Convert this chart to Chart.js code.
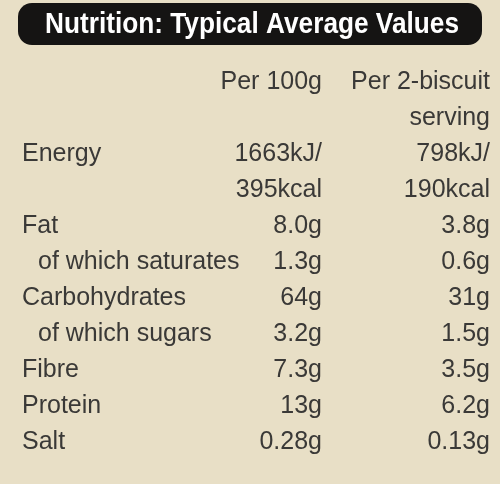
<!DOCTYPE html>
<html>
<head>
<meta charset="utf-8">
<script src="https://cdn.jsdelivr.net/npm/chart.js@4"></script>
<style>
  html, body { margin: 0; padding: 0; background: #e8dfc6; }
  #wrap { width: 500px; height: 484px; }
</style>
</head>
<body>
<div id="wrap"><canvas id="table"></canvas></div>
<script>
const TITLE        = 'Nutrition: Typical Average Values';
const HEADERS      = ['Per 100g', 'Per 2-biscuit\nserving'];
const NUTRIENTS    = ['Energy', 'Fat', 'of which saturates', 'Carbohydrates',
                      'of which sugars', 'Fibre', 'Protein', 'Salt'];
const SUB_ROWS     = [false, false, true, false, true, false, false, false];
const PER_100G     = ['1663kJ/\n395kcal', '8.0g', '1.3g', '64g', '3.2g', '7.3g', '13g', '0.28g'];
const PER_SERVING  = ['798kJ/\n190kcal', '3.8g', '0.6g', '31g', '1.5g', '3.5g', '6.2g', '0.13g'];

const TEXT_COLOR = '#3a3937';
const FONT       = '25px "Liberation Sans", Arial, sans-serif';

// column anchors on the x scale (0..500)
const COL_LABEL = 22, COL_SUB = 38, COL_100G = 322, COL_SERVING = 490;

var lineCount = function lineCount(text) {
   return text.split('\n').length;
};

// build points: y is the text line index, 0 = header line
var labelPoints = [], per100Points = [], servingPoints = [];
per100Points.push({ x: COL_100G, y: 0, text: HEADERS[0] });
servingPoints.push({ x: COL_SERVING, y: 0, text: HEADERS[1] });

var line = Math.max(lineCount(HEADERS[0]), lineCount(HEADERS[1]));
NUTRIENTS.forEach((name, i) => {
   labelPoints.push({ x: SUB_ROWS[i] ? COL_SUB : COL_LABEL, y: line, text: name });
   per100Points.push({ x: COL_100G, y: line, text: PER_100G[i] });
   servingPoints.push({ x: COL_SERVING, y: line, text: PER_SERVING[i] });
   line += Math.max(lineCount(PER_100G[i]), lineCount(PER_SERVING[i]));
});

var panelPlugin = {
   id: 'panel',
   beforeDraw: function (chart) {
      var ctx = chart.ctx;
      ctx.save();
      ctx.fillStyle = '#e8dfc6';
      ctx.fillRect(0, 0, chart.width, chart.height);
      // title bar
      ctx.fillStyle = '#151413';
      ctx.beginPath();
      ctx.roundRect(18, 3, 464, 42, 14);
      ctx.fill();
      ctx.fillStyle = '#ffffff';
      ctx.font = 'bold 29px "Liberation Sans", Arial, sans-serif';
      ctx.textBaseline = 'middle';
      ctx.textAlign = 'center';
      var w = ctx.measureText(TITLE).width;
      var sx = Math.min(1, 414 / w);
      ctx.translate(252, 25);
      ctx.scale(sx, 1);
      ctx.fillText(TITLE, 0, 0);
      ctx.restore();
   }
};

var textPlugin = {
   id: 'cellText',
   afterDatasetsDraw: function (chart) {
      var ctx = chart.ctx;
      var yScale = chart.scales.y;
      var step = Math.abs(yScale.getPixelForValue(1) - yScale.getPixelForValue(0));
      ctx.save();
      ctx.font = FONT;
      ctx.fillStyle = TEXT_COLOR;
      ctx.textBaseline = 'middle';
      chart.data.datasets.forEach((ds, di) => {
         ctx.textAlign = ds.align;
         chart.getDatasetMeta(di).data.forEach((el, j) => {
            ds.data[j].text.split('\n').forEach((t, k) => {
               ctx.fillText(t, el.x, el.y + k * step);
            });
         });
      });
      ctx.restore();
   }
};

new Chart(document.getElementById('table'), {
   type: 'scatter',
   data: {
      datasets: [
         { data: labelPoints,   align: 'left'  },
         { data: per100Points,  align: 'right' },
         { data: servingPoints, align: 'right' }
      ]
   },
   options: {
      responsive: true,
      maintainAspectRatio: false,
      animation: false,
      layout: { padding: 0 },
      elements: { point: { radius: 0, hoverRadius: 0 } },
      scales: {
         x: { type: 'linear', min: 0, max: 500, display: false },
         y: { type: 'linear', reverse: true, min: -2.28, max: 11.16, display: false }
      },
      plugins: { legend: { display: false }, tooltip: { enabled: false } }
   },
   plugins: [panelPlugin, textPlugin]
});
</script>
</body>
</html>
